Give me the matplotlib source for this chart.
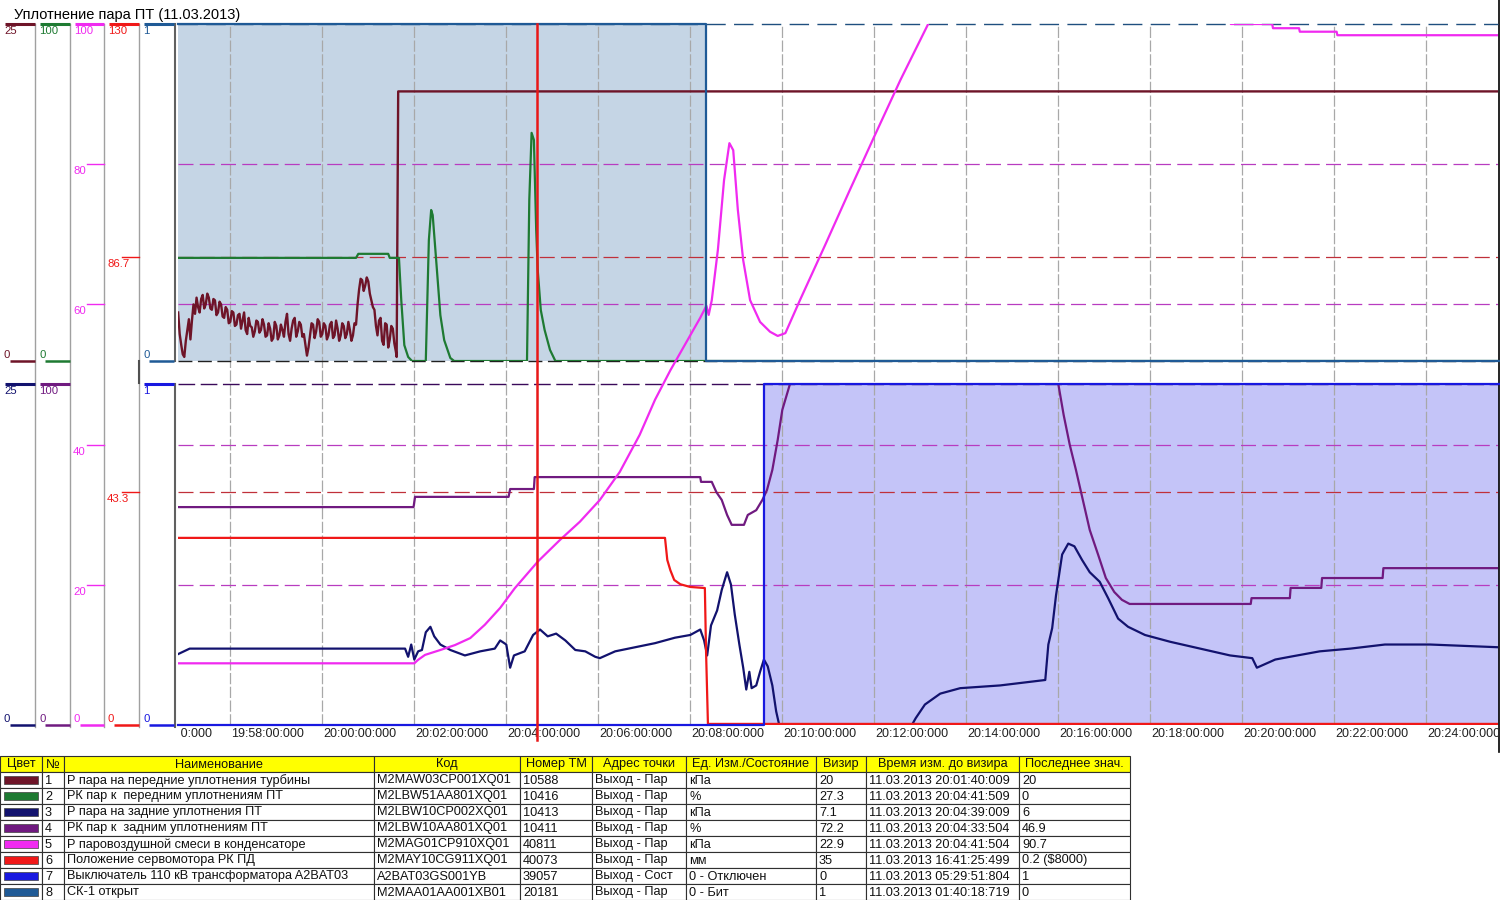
import numpy as np
import matplotlib
matplotlib.use("Agg")
import matplotlib.pyplot as plt
from matplotlib.lines import Line2D
from matplotlib.patches import Rectangle
from matplotlib.transforms import Bbox, TransformedBbox, offset_copy

plt.rcParams['font.family'] = ['Liberation Sans', 'DejaVu Sans']

# ====================== DATA ======================
TITLE = "Уплотнение пара ПТ (11.03.2013)"
VIEW_START = "19:56:52.8"
VIEW_END = "20:25:34.5"
TICK_TIMES = ["19:56", "19:58", "20:00", "20:02", "20:04", "20:06", "20:08", "20:10",
              "20:12", "20:14", "20:16", "20:18", "20:20", "20:22", "20:24"]
VISOR_TIME = "20:04:41.5"

# series 1: noisy pressure sampled every 2 s, then step
S1_NOISE_START = "19:56:53"
S1_NOISE_STEP_S = 2
S1_NOISE = [3.6, 2.0, 1.2, 0.5, 0.3, 1.5, 2.3, 3.1, 1.6, 3.0,
            4.2, 3.5, 4.7, 4.0, 3.6, 4.6, 4.9, 3.9, 4.2, 5.0,
            4.7, 3.9, 3.8, 4.6, 4.5, 3.4, 3.6, 4.4, 4.2, 3.3,
            3.2, 4.0, 3.8, 2.8, 2.9, 3.7, 3.6, 2.6, 2.7, 3.4,
            3.5, 2.4, 3.0, 3.6, 2.3, 2.0, 3.2, 2.6, 2.5, 1.8,
            2.2, 3.0, 2.9, 2.1, 2.3, 3.1, 2.7, 1.8, 1.9, 2.8,
            2.4, 1.5, 1.7, 2.9, 2.6, 1.6, 1.9, 2.7, 2.3, 1.8,
            2.9, 3.5, 2.0, 1.5, 2.4, 3.0, 3.2, 1.8, 2.2, 2.9,
            2.7, 1.8, 2.0, 1.2, 0.4, 1.0, 1.9, 2.8, 2.7, 1.7,
            2.2, 3.1, 2.9, 1.8, 2.0, 2.8, 2.6, 1.6, 1.9, 2.7,
            2.9, 1.7, 1.9, 3.0, 2.4, 1.5, 1.9, 2.8, 2.6, 1.7,
            2.0, 2.9, 2.3, 1.5, 1.9, 2.8, 2.7, 4.2, 5.3, 6.1,
            6.0, 5.2, 5.6, 6.2, 5.9, 5.0, 4.5, 4.0, 3.8, 2.6,
            1.9, 3.0, 3.2, 1.5, 1.2, 2.8, 2.7, 1.0, 1.6, 2.6,
            2.4, 1.3, 0.7]
S1_TAIL = [("20:01:38", 0.3), ("20:01:40", 20.0), ("20:25:40", 20.0)]

S2 = [("19:56:53", 30.6), ("20:00:45", 30.6), ("20:00:48", 31.8), ("20:01:27", 31.8),
      ("20:01:29", 30.6), ("20:01:41", 30.6), ("20:01:44", 18.1), ("20:01:48", 4.7),
      ("20:01:53", 1.2), ("20:01:58", 0.0), ("20:02:16", 0.0), ("20:02:20", 35.9),
      ("20:02:23", 44.8), ("20:02:25", 43.3), ("20:02:29", 31.5), ("20:02:35", 13.6),
      ("20:02:40", 6.2), ("20:02:48", 0.9), ("20:02:53", 0.0), ("20:04:28", 0.0),
      ("20:04:31", 47.8), ("20:04:34", 67.7), ("20:04:37", 65.6), ("20:04:40", 38.9),
      ("20:04:42", 27.0), ("20:04:46", 15.1), ("20:04:51", 9.2), ("20:04:58", 3.3),
      ("20:05:05", 0.0), ("20:25:40", 0.0)]

S3 = [("19:56:53", 5.2), ("19:57:08", 5.6), ("19:59:32", 5.6), ("20:01:49", 5.6),
      ("20:01:53", 5.0), ("20:01:57", 5.9), ("20:02:01", 4.8), ("20:02:06", 5.4),
      ("20:02:11", 5.5), ("20:02:16", 6.8), ("20:02:22", 7.2), ("20:02:27", 6.5),
      ("20:02:35", 5.9), ("20:02:48", 5.5), ("20:03:07", 5.1), ("20:03:27", 5.4),
      ("20:03:46", 5.6), ("20:03:53", 6.2), ("20:04:01", 5.9), ("20:04:06", 4.2),
      ("20:04:11", 5.1), ("20:04:25", 5.4), ("20:04:36", 6.6), ("20:04:45", 7.0),
      ("20:04:55", 6.5), ("20:05:06", 6.7), ("20:05:18", 6.2), ("20:05:31", 5.5),
      ("20:05:44", 5.4), ("20:05:57", 5.0), ("20:06:03", 4.9), ("20:06:23", 5.4),
      ("20:06:49", 5.7), ("20:07:15", 6.0), ("20:07:41", 6.4), ("20:08:01", 6.6),
      ("20:08:14", 7.0), ("20:08:19", 6.2), ("20:08:23", 5.1), ("20:08:28", 7.3),
      ("20:08:36", 8.4), ("20:08:42", 9.9), ("20:08:49", 11.2), ("20:08:54", 10.3),
      ("20:08:59", 8.1), ("20:09:05", 5.9), ("20:09:10", 4.2), ("20:09:14", 2.6),
      ("20:09:18", 3.9), ("20:09:21", 2.7), ("20:09:27", 2.9), ("20:09:32", 3.9),
      ("20:09:37", 4.8), ("20:09:42", 4.3), ("20:09:48", 2.9), ("20:09:53", 1.0),
      ("20:09:57", 0.0), ("20:12:50", 0.0), ("20:12:55", 0.5), ("20:13:07", 1.5),
      ("20:13:27", 2.3), ("20:13:53", 2.7), ("20:14:45", 2.9), ("20:15:44", 3.3),
      ("20:15:48", 5.9), ("20:15:53", 7.1), ("20:15:58", 9.5), ("20:16:06", 12.5),
      ("20:16:14", 13.3), ("20:16:22", 13.1), ("20:16:32", 12.1), ("20:16:42", 11.2),
      ("20:16:55", 10.5), ("20:17:06", 9.3), ("20:17:19", 7.8), ("20:17:32", 7.2),
      ("20:17:54", 6.6), ("20:18:27", 6.1), ("20:19:06", 5.6), ("20:19:45", 5.1),
      ("20:20:14", 4.9), ("20:20:20", 4.2), ("20:20:28", 4.4), ("20:20:44", 4.8),
      ("20:21:03", 5.0), ("20:21:42", 5.4), ("20:22:22", 5.6), ("20:23:07", 5.9),
      ("20:24:06", 5.9), ("20:25:35", 5.7)]

S4 = [("19:56:53", 63.9), ("20:02:00", 63.9), ("20:02:02", 66.9), ("20:04:04", 66.9),
      ("20:04:06", 69.2), ("20:04:37", 69.2), ("20:04:38", 72.7), ("20:08:14", 72.7),
      ("20:08:15", 71.3), ("20:08:29", 71.3), ("20:08:35", 68.3), ("20:08:42", 66.0),
      ("20:08:49", 61.6), ("20:08:55", 58.7), ("20:09:11", 58.7), ("20:09:16", 61.6),
      ("20:09:27", 63.0), ("20:09:35", 66.0), ("20:09:41", 68.9), ("20:09:48", 74.8),
      ("20:09:55", 83.6), ("20:10:01", 92.4), ("20:10:11", 100.0), ("20:10:17", 110.0),
      ("20:15:57", 110.0), ("20:16:01", 100.0), ("20:16:08", 90.9), ("20:16:16", 82.1),
      ("20:16:24", 74.8), ("20:16:33", 66.0), ("20:16:42", 57.2), ("20:16:53", 49.9),
      ("20:17:03", 43.1), ("20:17:14", 39.0), ("20:17:24", 36.7), ("20:17:34", 35.5),
      ("20:20:12", 35.5), ("20:20:13", 37.2), ("20:21:03", 37.2), ("20:21:04", 40.2),
      ("20:21:44", 40.2), ("20:21:45", 43.1), ("20:23:04", 43.1), ("20:23:05", 46.0),
      ("20:25:40", 46.0)]

S5 = [("19:56:53", 8.8), ("20:02:01", 8.8), ("20:02:06", 9.3), ("20:02:15", 10.0),
      ("20:02:35", 10.7), ("20:02:54", 11.4), ("20:03:14", 12.4), ("20:03:33", 14.3),
      ("20:03:53", 16.7), ("20:04:12", 19.5), ("20:04:42", 23.3), ("20:05:11", 26.4),
      ("20:05:37", 29.0), ("20:06:03", 32.1), ("20:06:29", 36.1), ("20:06:55", 41.4),
      ("20:07:15", 46.4), ("20:07:35", 50.6), ("20:08:01", 55.6), ("20:08:14", 58.1),
      ("20:08:22", 59.8), ("20:08:25", 58.5), ("20:08:29", 60.6), ("20:08:37", 67.8),
      ("20:08:45", 77.7), ("20:08:52", 83.0), ("20:08:57", 82.0), ("20:09:03", 73.5),
      ("20:09:10", 66.3), ("20:09:19", 60.6), ("20:09:32", 57.5), ("20:09:45", 56.1),
      ("20:09:55", 55.5), ("20:10:05", 55.9), ("20:10:24", 60.6), ("20:10:57", 68.5),
      ("20:11:29", 76.3), ("20:12:02", 84.2), ("20:12:35", 92.0), ("20:13:14", 100.6),
      ("20:13:53", 110.0), ("20:19:42", 110.0), ("20:19:46", 100.0), ("20:20:40", 100.0),
      ("20:20:41", 99.4), ("20:21:15", 99.4), ("20:21:16", 98.9), ("20:22:04", 98.9),
      ("20:22:05", 98.4), ("20:25:40", 98.4)]

S6 = [("19:56:53", 34.7), ("20:07:28", 34.7), ("20:07:31", 30.6), ("20:07:35", 28.7),
      ("20:07:40", 26.9), ("20:07:48", 26.1), ("20:08:01", 25.6), ("20:08:20", 25.4),
      ("20:08:21.5", 13.9), ("20:08:24", 0.2), ("20:25:40", 0.2)]

S7 = [("19:56:53", 0), ("20:09:37", 1), ("20:25:40", 1)]
S8 = [("19:56:53", 1), ("20:08:21.5", 0), ("20:25:40", 0)]

S5_TICKS = [0, 20, 40, 60, 80, 100]
S6_TICKS = [0, 43.3, 86.7, 130]

HEADERS = ["Цвет", "№", "Наименование", "Код", "Номер ТМ", "Адрес точки",
           "Ед. Изм./Состояние", "Визир", "Время изм. до визира", "Последнее знач."]
NUMS = ["1", "2", "3", "4", "5", "6", "7", "8"]
NAMES = ["Р пара на передние уплотнения турбины",
         "РК пар к  передним уплотнениям ПТ",
         "Р пара на задние уплотнения ПТ",
         "РК пар к  задним уплотнениям ПТ",
         "Р паровоздушной смеси в конденсаторе",
         "Положение сервомотора РК ПД",
         "Выключатель 110 кВ трансформатора A2BAT03",
         "СК-1 открыт"]
CODES = ["M2MAW03CP001XQ01", "M2LBW51AA801XQ01", "M2LBW10CP002XQ01", "M2LBW10AA801XQ01",
         "M2MAG01CP910XQ01", "M2MAY10CG911XQ01", "A2BAT03GS001YB", "M2MAA01AA001XB01"]
TM_NUMS = ["10588", "10416", "10413", "10411", "40811", "40073", "39057", "20181"]
ADDRS = ["Выход - Пар", "Выход - Пар", "Выход - Пар", "Выход - Пар", "Выход - Пар",
         "Выход - Пар", "Выход - Сост", "Выход - Пар"]
UNITS = ["кПа", "%", "кПа", "%", "кПа", "мм", "0 - Отключен", "0 - Бит"]
VISOR_VALS = ["20", "27.3", "7.1", "72.2", "22.9", "35", "0", "1"]
CHANGE_TIMES = ["11.03.2013 20:01:40:009", "11.03.2013 20:04:41:509", "11.03.2013 20:04:39:009",
                "11.03.2013 20:04:33:504", "11.03.2013 20:04:41:504", "11.03.2013 16:41:25:499",
                "11.03.2013 05:29:51:804", "11.03.2013 01:40:18:719"]
LAST_VALS = ["20", "0", "6", "46.9", "90.7", "0.2 ($8000)", "1", "0"]

# ====================== STYLE / LAYOUT ======================
COLORS = ['#6E1428', '#1E7A32', '#12126E', '#701A80', '#F02AF0', '#F01818', '#1818E0', '#1F5A96']
FILL_TOP = '#C5D5E5'
FILL_BOT = '#C4C4F8'
W, H = 1500, 900
PX0, PX1 = 178, 1498
Y_FULL = (24, 725)
Y_TOP = (24, 361)
Y_BOT = (384, 725)
FS_TAB = 9.2
FS_TICK = 9.0
FS_STRIP = 8.2


def hm(s):
    p = s.split(':')
    sec = float(p[2]) if len(p) > 2 else 0.0
    return int(p[0]) * 60 + int(p[1]) + sec / 60.0


def xy(pairs):
    return [hm(a) for a, _ in pairs], [b for _, b in pairs]


def rect(x0, y0, x1, y1):
    return [x0 / W, 1 - y1 / H, (x1 - x0) / W, (y1 - y0) / H]


fig = plt.figure(figsize=(15, 9), dpi=100)
fig.patch.set_facecolor('white')

XMIN, XMAX = hm(VIEW_START), hm(VIEW_END)


def panel(yr, ylim, z):
    ax = fig.add_axes(rect(PX0, yr[0], PX1, yr[1]), zorder=z)
    ax.set_xlim(XMIN, XMAX)
    ax.set_ylim(*ylim)
    ax.patch.set_visible(False)
    ax.axis('off')
    return ax


# ---- fills (binary signals) ----
ax8 = panel(Y_TOP, (0, 1), 1)
t8, v8 = xy(S8)
ax8.fill_between(t8, 0, v8, step='post', color=FILL_TOP, lw=0)
ax7 = panel(Y_BOT, (0, 1), 1)
t7, v7 = xy(S7)
ax7.fill_between(t7, 0, v7, step='post', color=FILL_BOT, lw=0)

# ---- grid ----
axg = panel(Y_FULL, (0, 100), 2)
axr = panel(Y_FULL, (0, 130), 2)
for tt in TICK_TIMES:
    axg.axvline(hm(tt), color='#A8A8A8', lw=0.9, dashes=(9, 2))
for v in S5_TICKS[1:-1]:
    axg.axhline(v, color='#B83CC0', lw=0.9, dashes=(12, 5))
for v in S6_TICKS[1:-1]:
    axr.axhline(v, color='#C0303A', lw=0.9, dashes=(12, 5))
axt = panel(Y_TOP, (0, 1), 2)
axt.axhline(1, color='#1F4F7F', lw=1.0, dashes=(14, 6), clip_on=False)
axt.axhline(0, color='#202020', lw=1.0, dashes=(10, 4), clip_on=False)
axb = panel(Y_BOT, (0, 1), 2)
axb.axhline(1, color='#3A0A5A', lw=1.0, dashes=(12, 4), clip_on=False)

# ---- x tick labels ----
clipbox = TransformedBbox(Bbox([[180.5 / W, 0], [PX1 / W, 1]]), fig.transFigure)
tr = offset_copy(axg.get_xaxis_transform(), fig=fig, x=2, y=-3, units='dots')
for tt in TICK_TIMES:
    h, m = tt.split(':')
    txt = axg.text(hm(tt), 0, f"{h}:{m}:00:000", transform=tr, ha='left', va='top',
                   fontsize=FS_TICK, color='#202020', clip_on=True)
    txt.set_clip_box(clipbox)

# ---- series ----
ax_s = {}
ranges = [(0, 25), (0, 100), (0, 25), (0, 100), (0, 100), (0, 130), (0, 1), (0, 1)]
panels = [Y_TOP, Y_TOP, Y_BOT, Y_BOT, Y_FULL, Y_FULL, Y_BOT, Y_TOP]
for i in range(8):
    ax_s[i] = panel(panels[i], ranges[i], 3 + i * 0.01)

t1 = list(hm(S1_NOISE_START) + np.arange(len(S1_NOISE)) * S1_NOISE_STEP_S / 60.0)
v1 = list(S1_NOISE)
tt1, vv1 = xy(S1_TAIL)
ax_s[0].plot(t1 + tt1, v1 + vv1, color=COLORS[0], lw=1.7)

for i, data in [(1, S2), (2, S3), (3, S4), (4, S5), (5, S6)]:
    t, v = xy(data)
    ax_s[i].plot(t, v, color=COLORS[i], lw=1.6)
ax_s[6].plot(t7, v7, color=COLORS[6], lw=1.6, drawstyle='steps-post', clip_on=False)
ax_s[7].plot(t8, v8, color=COLORS[7], lw=1.6, drawstyle='steps-post', clip_on=False)

# visor
axv = panel(Y_FULL, (0, 1), 4)
axv.axvline(hm(VISOR_TIME), ymin=-0.022, ymax=1, color='#E81818', lw=1.8, clip_on=False)

# ---- left scale strips ----
STRIPS = [(0, 35), (35, 70), (70, 104), (104, 139), (139, 174)]
strip_cfg = [
    (0, Y_TOP, (0, 25), [0, 25], 0),
    (0, Y_BOT, (0, 25), [0, 25], 2),
    (1, Y_TOP, (0, 100), [0, 100], 1),
    (1, Y_BOT, (0, 100), [0, 100], 3),
    (2, Y_FULL, (0, 100), S5_TICKS, 4),
    (3, Y_FULL, (0, 130), S6_TICKS, 5),
    (4, Y_TOP, (0, 1), [0, 1], 7),
    (4, Y_BOT, (0, 1), [0, 1], 6),
]
for si, yr, lim, ticks, ci in strip_cfg:
    x0, x1 = STRIPS[si]
    ax = fig.add_axes(rect(x0, yr[0], x1, yr[1]), zorder=5)
    ax.set_xlim(0, 1)
    ax.set_ylim(*lim)
    ax.patch.set_visible(False)
    ax.axis('off')
    col = COLORS[ci]
    wpx = x1 - x0
    ytr = ax.get_yaxis_transform()
    for v in ticks:
        lab = f"{v:g}"
        if v == lim[1]:
            ax.plot([5 / wpx, 1], [v, v], color=col, lw=2.2, transform=ytr, clip_on=False,
                    solid_capstyle='butt')
            ax.text(4 / wpx, v, lab, transform=offset_copy(ytr, fig=fig, y=-2, units='dots'),
                    ha='left', va='top', fontsize=FS_STRIP, color=col)
        elif v == lim[0]:
            ax.plot([10 / wpx, 1], [v, v], color=col, lw=1.8, transform=ytr, clip_on=False,
                    solid_capstyle='butt')
            ax.text(4 / wpx, v, lab, transform=offset_copy(ytr, fig=fig, y=1, units='dots'),
                    ha='left', va='bottom', fontsize=FS_STRIP, color=col)
        else:
            ax.plot([0.5, 1], [v, v], color=col, lw=1.0, transform=ytr, clip_on=False)
            ax.text(3 / wpx, v, lab, transform=offset_copy(ytr, fig=fig, y=-2, units='dots'),
                    ha='left', va='top', fontsize=FS_STRIP, color=col)

for xb in [35, 70, 104, 139]:
    fig.add_artist(Line2D([xb / W, xb / W], [1 - 24 / H, 1 - 727 / H], color='#A0A0A0', lw=1.0))
fig.add_artist(Line2D([139 / W, 139 / W], [1 - 361 / H, 1 - 383 / H], color='#505050', lw=1.5))
fig.add_artist(Line2D([175 / W, 175 / W], [1 - 24 / H, 1 - 361 / H], color='#606060', lw=1.5))
fig.add_artist(Line2D([175 / W, 175 / W], [1 - 384 / H, 1 - 727 / H], color='#606060', lw=1.5))
fig.add_artist(Line2D([1498.5 / W, 1498.5 / W], [1.0, 1 - 752 / H], color='black', lw=1.2))

# title
fig.text(14 / W, 1 - 15 / H, TITLE, ha='left', va='center', fontsize=10.5, color='black')

# ---- table ----
COL_EDGES = [0, 42, 64, 374, 520, 592, 686, 816, 866, 1019, 1130]
TAB_TOP, ROW_H = 756, 16
axt2 = fig.add_axes([0, 0, 1, 1], zorder=6)
axt2.set_xlim(0, W)
axt2.set_ylim(H, 0)
axt2.axis('off')
axt2.patch.set_visible(False)
nrows = len(NAMES)
for c in range(len(HEADERS)):
    xa, xb = COL_EDGES[c], COL_EDGES[c + 1]
    axt2.add_patch(Rectangle((xa, TAB_TOP), xb - xa, ROW_H, facecolor='#FFFF00',
                             edgecolor='#303030', lw=0.8))
    axt2.text((xa + xb) / 2, TAB_TOP + ROW_H / 2 + 0.5, HEADERS[c], ha='center', va='center',
              fontsize=FS_TAB, color='#101010')
cols = [NUMS, NAMES, CODES, TM_NUMS, ADDRS, UNITS, VISOR_VALS, CHANGE_TIMES, LAST_VALS]
for r in range(nrows):
    y0 = TAB_TOP + ROW_H * (r + 1)
    for c in range(len(HEADERS)):
        xa, xb = COL_EDGES[c], COL_EDGES[c + 1]
        axt2.add_patch(Rectangle((xa, y0), xb - xa, ROW_H, facecolor='white',
                                 edgecolor='#303030', lw=0.8))
    axt2.add_patch(Rectangle((4, y0 + 4), 34, 8, facecolor=COLORS[r], edgecolor='#404040', lw=0.5))
    for c, colvals in enumerate(cols, start=1):
        axt2.text(COL_EDGES[c] + 3, y0 + ROW_H / 2 + 0.5, colvals[r], ha='left', va='center',
                  fontsize=FS_TAB, color='#101010')

fig.savefig("out.png", dpi=100, facecolor='white')
